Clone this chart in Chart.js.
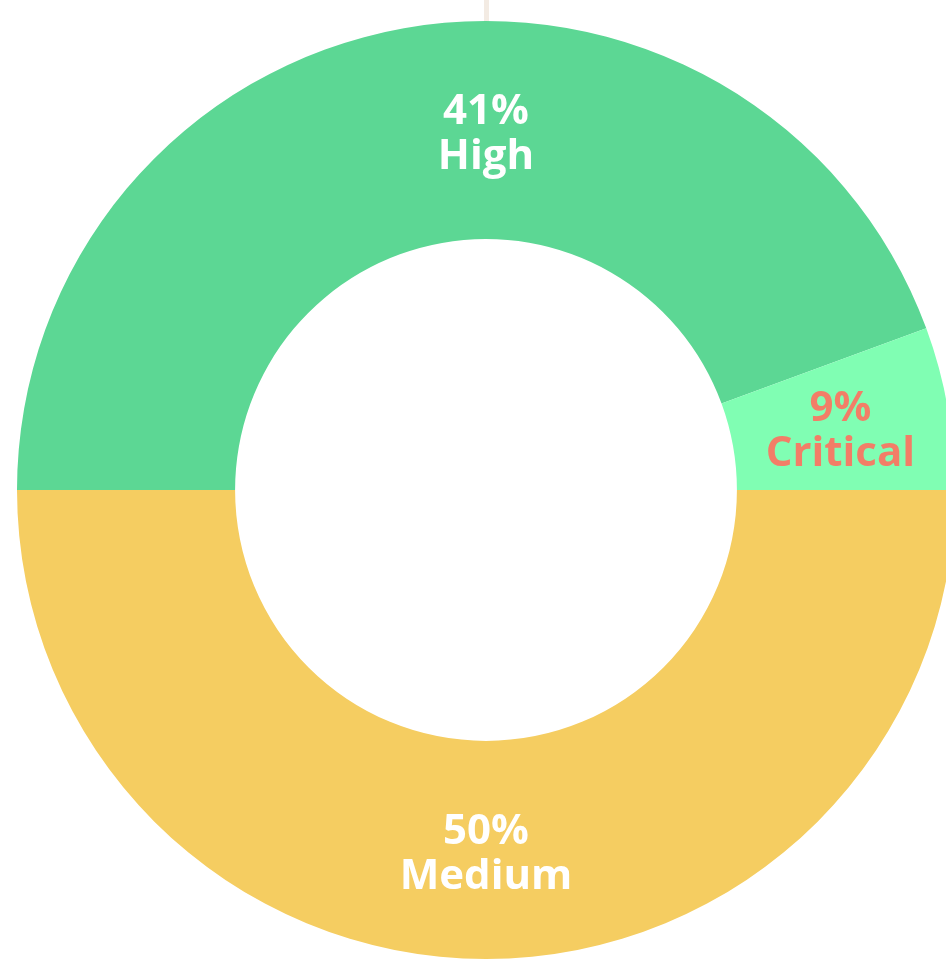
<!DOCTYPE html>
<html>
<head>
<meta charset="utf-8">
<script src="https://cdn.jsdelivr.net/npm/chart.js@4"></script>
<style>
    html, body { margin: 0; padding: 0; background: #fff; }
    body { width: 946px; height: 963px; overflow: hidden; position: relative; }
    #stem { position: absolute; left: 484px; top: 0; width: 5px; height: 30px; background: #f3ebe3; }
    #wrap { position: absolute; left: 17px; top: 21px; width: 938px; height: 938px; }
</style>
</head>
<body>
<div id="stem"></div>
<div id="wrap"><canvas id="myChart"></canvas></div>
<script>
const labels = ['High', 'Critical', 'Medium'];
const shares = [44.4, 5.6, 50];
const pctLabels = ['41%', '9%', '50%'];
const colors = ['#5cd794', '#80feb3', '#f5cd61'];
const textColors = ['#ffffff', '#f27e67', '#ffffff'];

const ringLabels = {
    id: 'ringLabels',
    afterDatasetsDraw(chart, args, opts) {
        const ctx = chart.ctx;
        const meta = chart.getDatasetMeta(0);
        ctx.save();
        ctx.font = 'bold 42px "Open Sans"';
        ctx.textAlign = 'center';
        ctx.textBaseline = 'middle';
        meta.data.forEach((arc, i) => {
            let mid = (arc.startAngle + arc.endAngle) / 2;
            if (opts.angles[i] !== null) mid = opts.angles[i];
            const r = (arc.innerRadius + arc.outerRadius) / 2;
            const x = arc.x + Math.cos(mid) * r;
            const y = arc.y + Math.sin(mid) * r;
            ctx.fillStyle = textColors[i];
            ctx.fillText(pctLabels[i], x, y - 18);
            ctx.fillText(labels[i], x, y + 27);
        });
        ctx.restore();
    }
};

const data = {
    labels: labels,
    datasets: [{
        data: shares,
        backgroundColor: colors,
        borderWidth: 0,
    }]
};

const config = {
    type: 'doughnut',
    data: data,
    options: {
        responsive: true,
        maintainAspectRatio: false,
        animation: false,
        rotation: 270,
        cutout: '53.5%',
        plugins: {
            legend: { display: false },
            tooltip: { enabled: false },
            ringLabels: { angles: [-Math.PI / 2, null, null] }
        }
    },
    plugins: [ringLabels]
};

const myChart = new Chart(document.getElementById('myChart'), config);
</script>
</body>
</html>
